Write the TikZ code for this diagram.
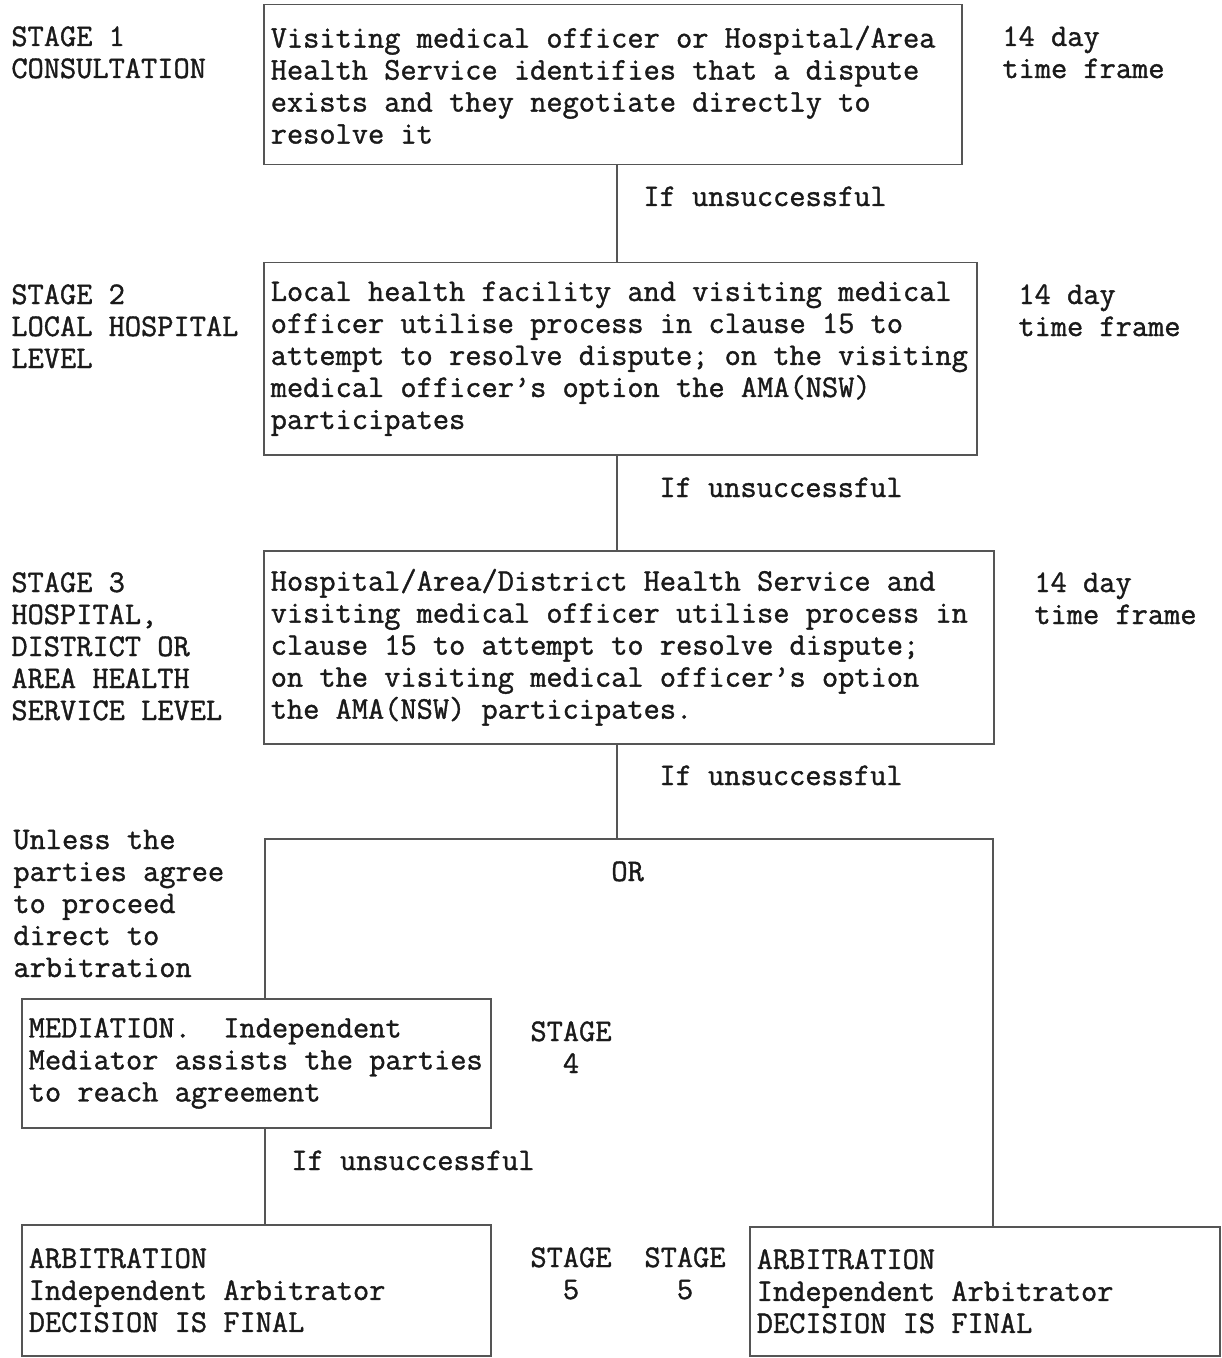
\documentclass[tikz,border=0pt]{standalone}
\usepackage{fontspec}
\setmonofont[WordSpace={1,0,0},FakeBold=1.2]{Latin Modern Mono}
\usepackage{tikz}
\usetikzlibrary{positioning}
\definecolor{inkk}{HTML}{1A1A1A}
\definecolor{rule}{HTML}{555555}

\begin{document}
\begin{tikzpicture}[x=0.5pt,y=-0.5pt,
    every node/.style={font=\ttfamily\fontsize{15.74}{16}\selectfont,text=inkk,inner sep=0pt},
    lbl/.style={anchor=base west,align=flush left},
    stagebox/.style={draw=rule,line width=0.75pt,anchor=north west,align=flush left},
    link/.style={draw=rule,line width=0.75pt}]
				\useasboundingbox (0,0) rectangle (1221,1358);
				\node[stagebox,minimum width=349pt,minimum height=80pt,text width=342pt] (consult) at (263,4) {Visiting medical officer or Hospital/Area\\Health Service identifies that a dispute\\exists and they negotiate directly to\\resolve it};
				\node[stagebox,minimum width=356.5pt,minimum height=96pt,text width=349.5pt] (local) at (263,262) {Local health facility and visiting medical\\officer utilise process in clause 15 to\\attempt to resolve dispute; on the visiting\\medical officer’s option the AMA(NSW)\\participates};
				\node[stagebox,minimum width=365pt,minimum height=96.5pt,text width=358pt] (district) at (263,550) {Hospital/Area/District Health Service and\\visiting medical officer utilise process in\\clause 15 to attempt to resolve dispute;\\on the visiting medical officer’s option\\the AMA(NSW) participates.};
				\node[stagebox,minimum width=234.5pt,minimum height=64.5pt,text width=227.5pt] (mediate) at (21,998) {MEDIATION.\ \ Independent\\Mediator assists the parties\\to reach agreement};
				\node[stagebox,minimum width=234.5pt,minimum height=65.5pt,text width=227.5pt] (arbleft) at (21,1224) {ARBITRATION\\Independent Arbitrator\\DECISION IS FINAL};
				\node[stagebox,minimum width=235pt,minimum height=64.5pt,text width=228pt] (arbright) at (749,1226) {ARBITRATION\\Independent Arbitrator\\DECISION IS FINAL};
				\node[lbl] (s1) at (11,78) {STAGE 1\\CONSULTATION};
				\node[lbl] (s2) at (11,368) {STAGE 2\\LOCAL HOSPITAL\\LEVEL};
				\node[lbl] (s3) at (11,720) {STAGE 3\\HOSPITAL,\\DISTRICT OR\\AREA HEALTH\\SERVICE LEVEL};
				\node[lbl] (unless) at (13,977) {Unless the\\parties agree\\to proceed\\direct to\\arbitration};
				\node[lbl] (t1) at (1002,78) {14 day\\time frame};
				\node[lbl] (t2) at (1018,336) {14 day\\time frame};
				\node[lbl] (t3) at (1034,624) {14 day\\time frame};
				\node[lbl] (u1) at (643,206) {If unsuccessful};
				\node[lbl] (u2) at (659,497) {If unsuccessful};
				\node[lbl] (u3) at (659,785) {If unsuccessful};
				\node[lbl] (u4) at (291,1170) {If unsuccessful};
				\node[lbl] (or) at (611,881) {OR};
				\node[anchor=base,align=center] (s4) at (571,1073) {STAGE\\4};
				\node[anchor=base,align=center] (s5a) at (571,1299) {STAGE\\5};
				\node[anchor=base,align=center] (s5b) at (685,1299) {STAGE\\5};
				\coordinate (spine) at (617,0);
				\coordinate (split) at (617,839);
				\coordinate (orleft) at (265,839);
				\coordinate (orright) at (993,839);
				\draw[link] (spine |- consult.south) -- (spine |- local.north);
				\draw[link] (spine |- local.south) -- (spine |- district.north);
				\draw[link] (spine |- district.south) -- (split);
				\draw[link] (mediate.north -| orleft) -- (orleft) -- (orright) -- (orright |- arbright.north);
				\draw[link] (mediate.south -| orleft) -- (arbleft.north -| orleft);
			\end{tikzpicture}
\end{document}
